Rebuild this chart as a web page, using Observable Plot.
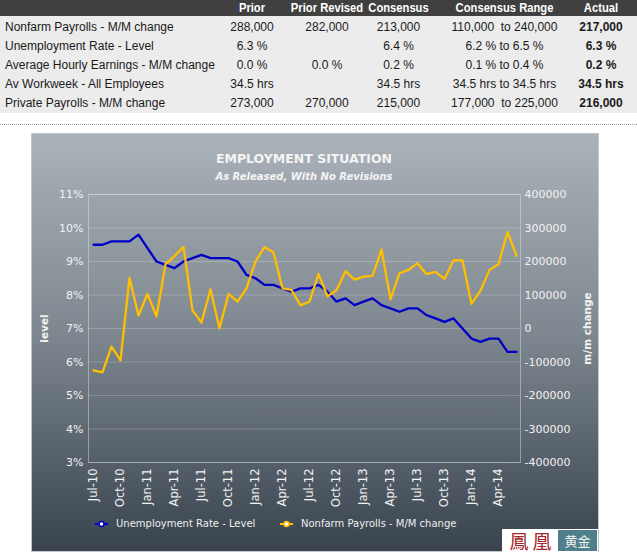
<!DOCTYPE html>
<html><head><meta charset="utf-8">
<script src="https://cdn.jsdelivr.net/npm/d3@7"></script>
<script src="https://cdn.jsdelivr.net/npm/@observablehq/plot@0.6"></script>
<style>
html,body{margin:0;padding:0;background:#fff}
body{width:637px;height:554px;overflow:hidden;position:relative;font-family:"Liberation Sans",Arial,sans-serif}
.abs{position:absolute}
#hdr{left:0;top:0;width:637px;height:16px;background:#404040}
#rows{left:0;top:16px;width:637px;height:97px;background:#ececec}
.hcell{position:absolute;top:0;height:16px;line-height:16px;text-align:center;color:#fff;font-family:"Liberation Sans",Arial,sans-serif;font-weight:bold;font-size:13.5px;white-space:nowrap;transform:scaleX(0.83);transform-origin:50% 50%}
.cell{position:absolute;height:19px;line-height:19px;text-align:center;color:#1a1a1a;font-size:12px;white-space:pre}
.lab{text-align:left}
#sep{left:0;top:124px;width:637px;height:0;border-top:1px dotted #9a9a9a}
#panel{left:31px;top:133px;width:566px;height:417px;border:1px solid #c3c7cb;background:linear-gradient(to bottom,#abb2b9 0%,#7e878f 48%,#38434e 100%)}
#title{left:88px;top:151px;width:432px;text-align:center;color:#f4f4f4;font:bold 12.5px "DejaVu Sans",Verdana,sans-serif}
#subtitle{left:88px;top:171px;width:432px;text-align:center;color:#f4f4f4;font:italic bold 10px "DejaVu Sans",Verdana,sans-serif}
#chart{left:31px;top:133px}
#chart svg g[aria-label="y-axis label"] text{font-weight:bold;font-size:10.5px}
.leg{position:absolute;top:517px;color:#eeeeee;font:10px "DejaVu Sans",Verdana,sans-serif;line-height:14px;white-space:nowrap}
#logo{left:502px;top:529px;width:94px;height:21px;border:1px solid #fff;background:#fff}
#logoL{position:absolute;left:0;top:0;width:55px;height:21px;color:#a3262c;font:19px/21px "Noto Sans CJK TC","Noto Sans CJK SC",serif;text-align:center;letter-spacing:4px;text-indent:4px}
#logoR{position:absolute;left:55px;top:0;width:39px;height:21px;background:#4f7f8a;color:#f4f4f4;font:13px/21px "Noto Sans CJK TC","Noto Sans CJK SC",serif;text-align:center}
</style></head><body>
<div id="hdr" class="abs"></div>
<div id="rows" class="abs"></div>
<div id="sep" class="abs"></div>
<div id="panel" class="abs"></div>
<div id="title" class="abs">EMPLOYMENT SITUATION</div>
<div id="subtitle" class="abs">As Released, With No Revisions</div>
<div id="chart" class="abs"></div>
<div id="logo" class="abs"><div id="logoL">鳳凰</div><div id="logoR">黄金</div></div>
<script>
// ---- table data ----
const columnHeaders = ["Prior", "Prior Revised", "Consensus", "Consensus Range", "Actual"];
const rowLabels = ["Nonfarm Payrolls - M/M change", "Unemployment Rate - Level", "Average Hourly Earnings - M/M change", "Av Workweek - All Employees", "Private Payrolls - M/M change"];
const prior = ["288,000", "6.3 %", "0.0 %", "34.5 hrs", "273,000"];
const priorRevised = ["282,000", "", "0.0 %", "", "270,000"];
const consensus = ["213,000", "6.4 %", "0.2 %", "34.5 hrs", "215,000"];
const consensusRange = ["110,000  to 240,000", "6.2 % to 6.5 %", "0.1 % to 0.4 %", "34.5 hrs to 34.5 hrs", "177,000  to 225,000"];
const actual = ["217,000", "6.3 %", "0.2 %", "34.5 hrs", "216,000"];

// ---- chart data ----
const months = ["Jul-10","Aug-10","Sep-10","Oct-10","Nov-10","Dec-10","Jan-11","Feb-11","Mar-11","Apr-11","May-11","Jun-11",
  "Jul-11","Aug-11","Sep-11","Oct-11","Nov-11","Dec-11","Jan-12","Feb-12","Mar-12","Apr-12","May-12","Jun-12",
  "Jul-12","Aug-12","Sep-12","Oct-12","Nov-12","Dec-12","Jan-13","Feb-13","Mar-13","Apr-13","May-13","Jun-13",
  "Jul-13","Aug-13","Sep-13","Oct-13","Nov-13","Dec-13","Jan-14","Feb-14","Mar-14","Apr-14","May-14","Jun-14"];
const unemploymentRate = [9.5,9.5,9.6,9.6,9.6,9.8,9.4,9.0,8.9,8.8,9.0,9.1,
  9.2,9.1,9.1,9.1,9.0,8.6,8.5,8.3,8.3,8.2,8.1,8.2,
  8.2,8.3,8.1,7.8,7.9,7.7,7.8,7.9,7.7,7.6,7.5,7.6,
  7.6,7.4,7.3,7.2,7.3,7.0,6.7,6.6,6.7,6.7,6.3,6.3];
const nonfarmPayrolls = [-125000,-131000,-54000,-95000,151000,39000,103000,36000,192000,216000,244000,54000,
  18000,117000,0,103000,80000,120000,200000,243000,227000,120000,115000,69000,
  80000,163000,96000,114000,171000,146000,155000,157000,236000,88000,165000,175000,
  195000,162000,169000,148000,204000,203000,74000,113000,175000,192000,288000,217000];
const leftTicks = [3,4,5,6,7,8,9,10,11];
const xTickLabels = ["Jul-10","Oct-10","Jan-11","Apr-11","Jul-11","Oct-11","Jan-12","Apr-12","Jul-12","Oct-12","Jan-13","Apr-13","Jul-13","Oct-13","Jan-14","Apr-14"];
const seriesNames = ["Unemployment Rate - Level", "Nonfarm Payrolls - M/M change"];
const seriesColors = ["#0000c8", "#ffbf00"];

// ---- build table ----
const cols = [
  {cx: 252, w: 74, vals: prior},
  {cx: 327, w: 76, vals: priorRevised},
  {cx: 398.5, w: 67, vals: consensus},
  {cx: 504.5, w: 145, vals: consensusRange},
  {cx: 601, w: 56, vals: actual, bold: true}
];
const hdr = document.getElementById("hdr");
cols.forEach((c, j) => {
  const d = document.createElement("div");
  d.className = "hcell";
  d.style.left = (c.cx - c.w / 2 - 20) + "px";
  d.style.width = (c.w + 40) + "px";
  d.textContent = columnHeaders[j];
  hdr.appendChild(d);
});
rowLabels.forEach((lab, i) => {
  const top = 27.1 + i * 19.2 - 9.5;
  const l = document.createElement("div");
  l.className = "cell lab";
  l.style.left = "5px"; l.style.top = top + "px";
  l.textContent = lab;
  document.body.appendChild(l);
  cols.forEach(c => {
    const d = document.createElement("div");
    d.className = "cell";
    d.style.left = (c.cx - c.w / 2 - 10) + "px";
    d.style.width = (c.w + 20) + "px";
    d.style.top = top + "px";
    if (c.bold) d.style.fontWeight = "bold";
    d.textContent = c.vals[i];
    document.body.appendChild(d);
  });
});

// ---- chart ----
const data = months.map((m, i) => ({month: m, rate: unemploymentRate[i], nfp: nonfarmPayrolls[i]}));
const nfpToLeft = v => 7 + v / 100000;
const chart = Plot.plot({
  width: 568, height: 380,
  marginLeft: 57, marginRight: 79, marginTop: 61, marginBottom: 51,
  style: {background: "transparent", color: "#f2f2f2", fontFamily: "'DejaVu Sans', Verdana, sans-serif", fontSize: "11px", overflow: "visible"},
  x: {type: "point", domain: months, padding: 0.5},
  y: {domain: [3, 11]},
  marks: [
    Plot.gridY(leftTicks, {stroke: "#ffffff", strokeOpacity: 0.2}),
    Plot.frame({stroke: "#e2e6ea", strokeOpacity: 0.45}),
    Plot.axisY(leftTicks, {anchor: "left", tickSize: 0, tickPadding: 5, tickFormat: d => d + "%", label: "level", labelArrow: "none", labelAnchor: "center", labelOffset: 48}),
    Plot.axisY(leftTicks, {anchor: "right", tickSize: 0, tickPadding: 4, tickFormat: d => String(Math.round((d - 7) * 100000)), label: "m/m change", labelArrow: "none", labelAnchor: "center", labelOffset: 70}),
    Plot.axisX(xTickLabels, {anchor: "bottom", tickSize: 0, tickPadding: 6, tickRotate: -90, fontSize: 11.5, label: null}),
    Plot.line(data, {x: "month", y: "rate", stroke: seriesColors[0], strokeWidth: 2.3}),
    Plot.line(data, {x: "month", y: d => nfpToLeft(d.nfp), stroke: seriesColors[1], strokeWidth: 2.3})
  ]
});
document.getElementById("chart").appendChild(chart);

// ---- legend ----
const legX = [95, 280];
seriesNames.forEach((name, i) => {
  const g = document.createElement("div");
  g.className = "leg";
  g.style.left = legX[i] + "px";
  g.innerHTML = `<svg width="13" height="8" style="vertical-align:middle;margin-right:8px"><line x1="0" y1="4" x2="13" y2="4" stroke="${seriesColors[i]}" stroke-width="2"/><circle cx="6.5" cy="4" r="2.5" fill="#fff" stroke="${seriesColors[i]}" stroke-width="1.5"/></svg><span style="vertical-align:middle">${name}</span>`;
  document.body.appendChild(g);
});
</script>
</body></html>
